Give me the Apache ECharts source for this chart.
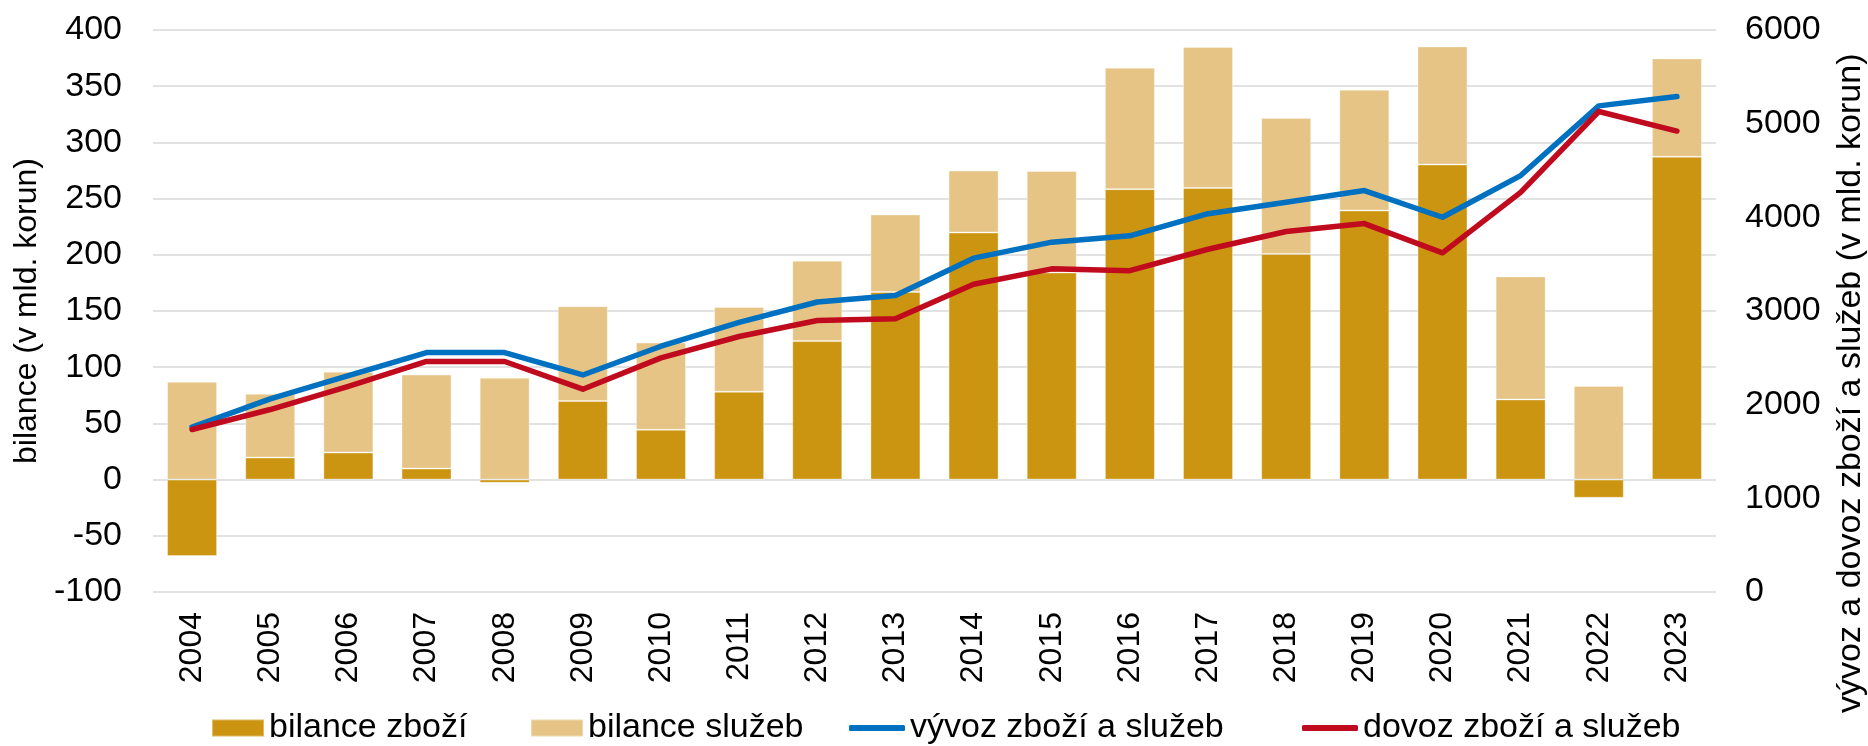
<!DOCTYPE html>
<html>
<head>
<meta charset="utf-8">
<script src="https://cdn.jsdelivr.net/npm/echarts@6/dist/echarts.min.js"></script>
<style>
html,body{margin:0;padding:0;background:#fff;}
#chart{width:1868px;height:746px;}
</style>
</head>
<body>
<div id="chart"></div>
<script>
const years = ['2004','2005','2006','2007','2008','2009','2010','2011','2012','2013','2014','2015','2016','2017','2018','2019','2020','2021','2022','2023'];
const goodsBalance = [-68, 19.6, 24.1, 9.8, -2.9, 70.0, 44.3, 78.2, 123.2, 166.9, 219.8, 184.3, 258.4, 259.4, 200.8, 239.4, 280.3, 71.3, -16.2, 287.2];
const servicesBalance = [87.1, 56.7, 71.9, 83.6, 90.6, 84.2, 77.6, 75.4, 71.6, 69.0, 55.1, 90.3, 108.0, 125.4, 121.0, 107.4, 105.1, 109.5, 83.3, 87.5];
const exportsTotal = [1760, 2062, 2309, 2556, 2556, 2317, 2624, 2879, 3096, 3165, 3564, 3735, 3803, 4039, 4161, 4286, 4001, 4446, 5190, 5289];
const importsTotal = [1735, 1948, 2196, 2461, 2461, 2165, 2499, 2728, 2899, 2918, 3286, 3450, 3431, 3659, 3849, 3933, 3621, 4267, 5130, 4921];
const leftTicks = {min: -100, max: 400, interval: 50};
const rightTicks = {min: 0, max: 6000, interval: 1000};
const names = ['bilance zboží', 'bilance služeb', 'vývoz zboží a služeb', 'dovoz zboží a služeb'];

const FONT = "'Liberation Sans', Arial, sans-serif";
const FS = 34;
const C_GOODS = '#CC9511';
const C_SERV = '#E5C485';
const C_EXP = '#0070C0';
const C_IMP = '#C00A1E';

const chart = echarts.init(document.getElementById('chart'), null, {renderer: 'canvas'});

function legendAt(left, name, isLine) {
  return {
    show: true,
    left: left,
    top: 711,
    orient: 'horizontal',
    data: [{name: name, icon: isLine ? 'roundRect' : 'rect'}],
    itemWidth: isLine ? 56 : 52,
    itemHeight: isLine ? 6 : 17,
    itemGap: 0,
    padding: 0,
    selectedMode: false,
    textStyle: {fontFamily: FONT, fontSize: FS, color: '#000', padding: [0, 0, 0, 0]}
  };
}

chart.setOption({
  animation: false,
  backgroundColor: '#fff',
  textStyle: {fontFamily: FONT},
  grid: {left: 153, right: 152, top: 30, height: 562, containLabel: false},
  legend: [
    legendAt(211, names[0], false),
    legendAt(530, names[1], false),
    legendAt(849, names[2], true),
    legendAt(1302, names[3], true)
  ],
  xAxis: {
    type: 'category',
    data: years,
    axisLine: {show: false},
    axisTick: {show: false},
    axisLabel: {rotate: 90, margin: 20, fontSize: 32, color: '#000', fontFamily: FONT},
    splitLine: {show: false}
  },
  yAxis: [
    {
      type: 'value',
      min: leftTicks.min, max: leftTicks.max, interval: leftTicks.interval,
      position: 'left',
      name: 'bilance (v mld. korun)',
      nameLocation: 'middle',
      nameGap: 108,
      nameRotate: 90,
      nameTextStyle: {fontSize: 32, color: '#000', fontFamily: FONT},
      axisLine: {show: false},
      axisTick: {show: false},
      axisLabel: {margin: 31, fontSize: FS, color: '#000', fontFamily: FONT},
      splitLine: {show: true, lineStyle: {color: '#D9D9D9', width: 1.5}}
    },
    {
      type: 'value',
      min: rightTicks.min, max: rightTicks.max, interval: rightTicks.interval,
      position: 'right',
      axisLine: {show: false},
      axisTick: {show: false},
      axisLabel: {margin: 29, fontSize: FS, color: '#000', fontFamily: FONT, formatter: function (v) { return String(v); }},
      splitLine: {show: false}
    }
  ],
  graphic: [{
    type: 'text',
    x: 1851, y: 713,
    rotation: Math.PI / 2,
    style: {
      text: 'vývoz a dovoz zboží a služeb (v mld. korun)',
      fontSize: 34, fontFamily: FONT, fill: '#000',
      textAlign: 'left', textVerticalAlign: 'middle'
    }
  }],
  series: [
    {
      name: names[0], type: 'bar', stack: 'bal', yAxisIndex: 0,
      data: goodsBalance, barWidth: 50,
      itemStyle: {color: C_GOODS, borderColor: 'rgba(255,255,255,0.35)', borderWidth: 1}
    },
    {
      name: names[1], type: 'bar', stack: 'bal', yAxisIndex: 0,
      data: servicesBalance, barWidth: 50,
      itemStyle: {color: C_SERV, borderColor: 'rgba(255,255,255,0.35)', borderWidth: 1}
    },
    {
      name: names[2], type: 'line', yAxisIndex: 1, data: exportsTotal,
      symbol: 'none', showSymbol: false,
      lineStyle: {color: C_EXP, width: 5.5, cap: 'round', join: 'round'},
      itemStyle: {color: C_EXP}
    },
    {
      name: names[3], type: 'line', yAxisIndex: 1, data: importsTotal,
      symbol: 'none', showSymbol: false,
      lineStyle: {color: C_IMP, width: 5.5, cap: 'round', join: 'round'},
      itemStyle: {color: C_IMP}
    }
  ]
});
</script>
</body>
</html>
